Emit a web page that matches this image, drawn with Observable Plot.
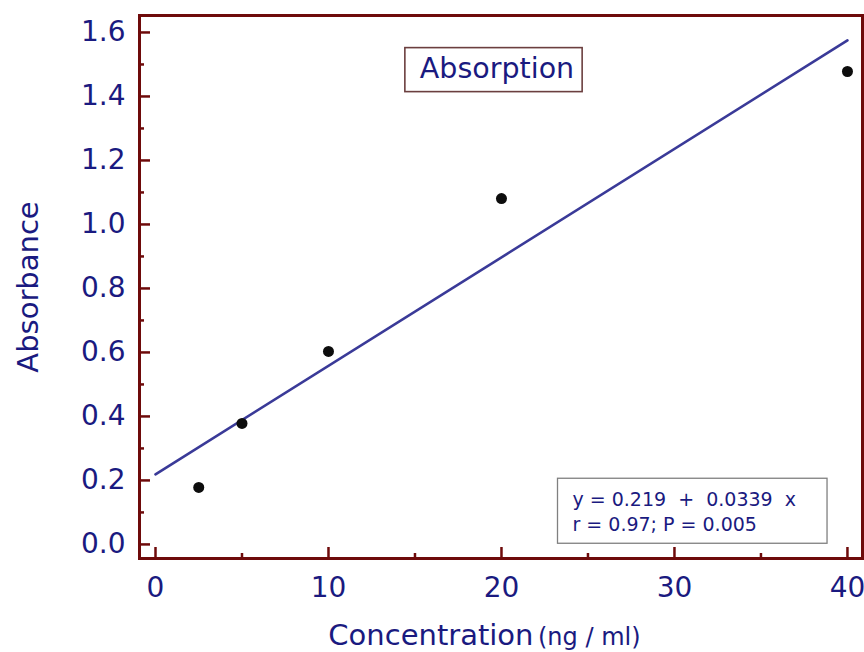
<!DOCTYPE html>
<html>
<head>
<meta charset="utf-8">
<script src="https://cdn.jsdelivr.net/npm/d3@7"></script>
<script src="https://cdn.jsdelivr.net/npm/@observablehq/plot@0.6"></script>
<style>
  html, body { margin: 0; padding: 0; background: #ffffff; }
  svg text { white-space: pre; }
</style>
</head>
<body>
<div id="chart"></div>
<script>
// ---- data ----
const concentration = [2.5, 5, 10, 20, 40];
const absorbance = [0.178, 0.378, 0.603, 1.081, 1.478];
const fitX = [0, 40];
const fitY = [0.219, 1.575];
const xMajorTicks = [0, 10, 20, 30, 40];
const xMinorTicks = [5, 15, 25, 35];
const yMajorTicks = [0, 0.2, 0.4, 0.6, 0.8, 1.0, 1.2, 1.4, 1.6];
const yMinorTicks = [0.1, 0.3, 0.5, 0.7, 0.9, 1.1, 1.3, 1.5];
const xDomain = [-0.925, 40.87];
const yDomain = [-0.044, 1.653];
const legendTitle = ["Absorption"];
const equationText = ["y = 0.219  +  0.0339  x\nr = 0.97; P = 0.005"];
const xLabel = ["Concentration"];
const xUnit = ["(ng / ml)"];
const yLabel = ["Absorbance"];

const points = concentration.map((c, i) => ({c, a: absorbance[i]}));
const fit = fitX.map((x, i) => ({x, y: fitY[i]}));

const NAVY = "#1a1a80";
const MAROON = "#6e0a0a";
const LINE = "#3a3a98";

const chart = Plot.plot({
  width: 864,
  height: 652,
  marginLeft: 139,
  marginRight: 2,
  marginTop: 15,
  marginBottom: 94,
  style: {fontFamily: "DejaVu Sans", background: "#ffffff", color: NAVY},
  x: {domain: xDomain},
  y: {domain: yDomain},
  marks: [
    // inward ticks
    Plot.axisX(xMajorTicks, {anchor: "bottom", tickSize: -11, stroke: MAROON, strokeWidth: 2.5, fill: "none", label: null}),
    Plot.axisX(xMinorTicks, {anchor: "bottom", tickSize: -5, stroke: MAROON, strokeWidth: 2.5, fill: "none", label: null}),
    Plot.axisY(yMajorTicks, {anchor: "left", tickSize: -11, stroke: MAROON, strokeWidth: 2.5, fill: "none", label: null}),
    Plot.axisY(yMinorTicks, {anchor: "left", tickSize: -5, stroke: MAROON, strokeWidth: 2.5, fill: "none", label: null}),
    // tick labels
    Plot.axisX(xMajorTicks, {anchor: "bottom", tickSize: 0, tickPadding: 19, fill: NAVY, fontSize: 28, label: null, tickFormat: d3.format("d")}),
    Plot.axisY(yMajorTicks, {anchor: "left", tickSize: 0, tickPadding: 14, fill: NAVY, fontSize: 28, label: null, tickFormat: d3.format(".1f")}),
    // frame
    Plot.frame({stroke: MAROON, strokeWidth: 3}),
    // regression line
    Plot.line(fit, {x: "x", y: "y", stroke: LINE, strokeWidth: 2.6}),
    // points
    Plot.dot(points, {x: "c", y: "a", r: 5.5, fill: "#0d0d0d", stroke: "none"}),
    // legend title
    Plot.text(legendTitle, {frameAnchor: "top", dx: -4, dy: 53, lineAnchor: "middle", fontSize: 28.5, fill: NAVY}),
    // equation
    Plot.text(equationText, {frameAnchor: "bottom-right", textAnchor: "start", lineAnchor: "top", dx: -290, dy: -70, fontSize: 19, lineHeight: 1.316, fill: NAVY}),
    // axis labels
    Plot.text(xLabel, {frameAnchor: "bottom", textAnchor: "end", lineAnchor: "middle", dx: 32.5, dy: 77.7, fontSize: 29, fill: NAVY}),
    Plot.text(xUnit, {frameAnchor: "bottom", textAnchor: "start", lineAnchor: "middle", dx: 37, dy: 79.3, fontSize: 24, fill: NAVY}),
    Plot.text(yLabel, {frameAnchor: "left", textAnchor: "middle", rotate: -90, lineAnchor: "middle", dx: -111, fontSize: 29, fill: NAVY})
  ]
});

document.getElementById("chart").appendChild(chart);

// draw boxes around the legend title and the equation, sized from their rendered text
function boxAround(match, pad, stroke, strokeWidth) {
  const t = Array.from(chart.querySelectorAll("text")).find(el => el.textContent.indexOf(match) === 0);
  if (!t) return;
  const bb = t.getBBox();
  const rect = document.createElementNS("http://www.w3.org/2000/svg", "rect");
  rect.setAttribute("x", bb.x - pad.l);
  rect.setAttribute("y", bb.y - pad.t);
  rect.setAttribute("width", bb.width + pad.l + pad.r);
  rect.setAttribute("height", bb.height + pad.t + pad.b);
  rect.setAttribute("fill", "#ffffff");
  rect.setAttribute("stroke", stroke);
  rect.setAttribute("stroke-width", strokeWidth);
  const tr = t.getAttribute("transform");
  if (tr) rect.setAttribute("transform", tr);
  t.parentNode.insertBefore(rect, t);
}
boxAround("Absorption", {l: 15, r: 8, t: 4, b: 7}, "#6b3f3f", 1.6);
boxAround("y = 0.219", {l: 15, r: 31, t: 10, b: 8}, "#808080", 1.3);
</script>
</body>
</html>
